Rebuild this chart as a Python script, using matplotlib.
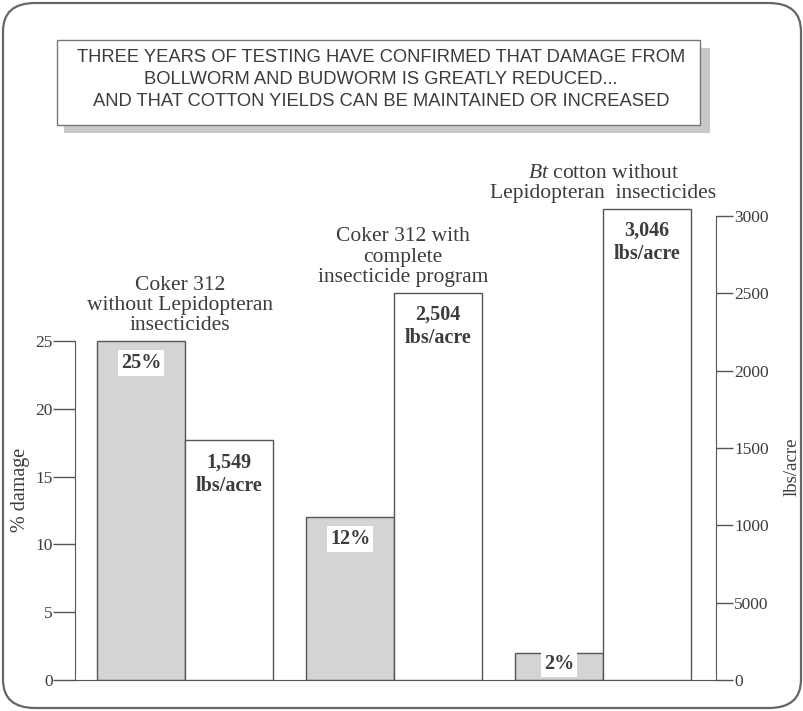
import matplotlib
matplotlib.use("Agg")
import matplotlib.pyplot as plt
from matplotlib.patches import FancyBboxPatch, Rectangle
from matplotlib.transforms import offset_copy

plt.rcParams["mathtext.fontset"] = "custom"
plt.rcParams["mathtext.rm"] = "Liberation Serif"
plt.rcParams["mathtext.it"] = "Liberation Serif:italic"

groups = ["Coker 312\nwithout Lepidopteran\ninsecticides",
          "Coker 312 with\ncomplete\ninsecticide program",
          "$\\it{Bt}$ cotton without\nLepidopteran  insecticides"]
damage = [25, 12, 2]
damage_labels = ["25%", "12%", "2%"]
yields = [1549, 2504, 3046]
yield_labels = ["1,549\nlbs/acre", "2,504\nlbs/acre", "3,046\nlbs/acre"]
left_ticks = [0, 5, 10, 15, 20, 25]
right_ticks = [0, 500, 1000, 1500, 2000, 2500, 3000]
right_tick_labels = ["0", "5000", "1000", "1500", "2000", "2500", "3000"]
title_lines = ["THREE YEARS OF TESTING HAVE CONFIRMED THAT DAMAGE FROM",
               "BOLLWORM AND BUDWORM IS GREATLY REDUCED...",
               "AND THAT COTTON YIELDS CAN BE MAINTAINED OR INCREASED"]

W, H = 804, 711
TXT = "#3c3c3c"
LINE = "#555555"
STIP = "#d4d4d4"
SERIF = "Liberation Serif"

fig = plt.figure(figsize=(W / 100, H / 100), dpi=100)

def fx(px):
    return px / W

def fy(py):
    return 1 - py / H

# outer rounded frame
frame = FancyBboxPatch((fx(3), fy(708)), fx(798), 705 / H,
                       boxstyle="round,pad=0,rounding_size=0.04",
                       transform=fig.transFigure, fill=False,
                       ec="#666666", lw=1.6)
fig.patches.append(frame)

# title box with stippled shadow
fig.patches.append(Rectangle((fx(64), fy(133)), fx(646), 85 / H,
                             transform=fig.transFigure, fc="#c8c8c8", ec="none"))
fig.patches.append(Rectangle((fx(57), fy(125)), fx(643), 85 / H,
                             transform=fig.transFigure, fc="white",
                             ec="#777777", lw=1.0))
for i, line in enumerate(title_lines):
    fig.text(fx(381), fy(57 + 22 * i), line, ha="center", va="center",
             fontsize=13.2, family="Liberation Sans", color=TXT)

# axes
ax = fig.add_axes([fx(75), fy(680), fx(716 - 75), (680 - 200) / H])
ax2 = ax.twinx()
ax.set_xlim(-0.526, 2.54)
ax.set_ylim(0, (680 - 200) / 13.56)
ax2.set_ylim(0, 480 * 3000 / 464)

bw = 0.42
xs = list(range(len(groups)))
ax.bar([x - bw / 2 for x in xs], damage, width=bw, color=STIP,
       edgecolor=LINE, lw=1.0, zorder=2)
ax2.bar([x + bw / 2 for x in xs], yields, width=bw, color="white",
        edgecolor=LINE, lw=1.0, zorder=2)

for a in (ax, ax2):
    a.patch.set_visible(False)
    a.spines["top"].set_visible(False)
ax.spines["right"].set_visible(False)
ax2.spines["left"].set_visible(False)
ax2.spines["bottom"].set_visible(False)
ax.spines["left"].set_bounds(0, 25)
ax2.spines["right"].set_bounds(0, 3000)
for s in ("left", "bottom"):
    ax.spines[s].set_color(LINE)
ax2.spines["right"].set_color(LINE)

ax.set_xticks([])
ax.set_yticks(left_ticks)
ax.tick_params(axis="y", length=16, width=1.0, color=LINE, labelsize=12.5,
               labelcolor=TXT, pad=0)
ax2.set_yticks(right_ticks)
ax2.set_yticklabels(right_tick_labels)
ax2.tick_params(axis="y", length=12, width=1.0, color=LINE, labelsize=12.5,
                labelcolor=TXT, pad=1)
for lab in ax.get_yticklabels() + ax2.get_yticklabels():
    lab.set_family(SERIF)

fig.text(fx(21), fy(490), "% damage", rotation=90, ha="center", va="center",
         fontsize=14.5, family=SERIF, color=TXT)
fig.text(fx(792), fy(467), "lbs/acre", rotation=90, ha="center", va="center",
         fontsize=13.5, family=SERIF, color=TXT)

# value labels
for x, d, lab in zip(xs, damage, damage_labels):
    ybase = ax.transData.transform((0, 0))[1]
    ytop = ax.transData.transform((0, d))[1]
    yc = max(ytop - 22, ybase + 16)
    xc = ax.transData.transform((x - bw / 2, 0))[0]
    fig.text(xc / W, yc / H, lab, ha="center", va="center", fontsize=14.5,
             family=SERIF, weight="bold", color=TXT,
             bbox=dict(fc="white", ec="none", pad=2))

for x, v, lab in zip(xs, yields, yield_labels):
    t = offset_copy(ax2.transData, fig=fig, x=0, y=-12, units="dots")
    ax2.text(x + bw / 2, v, lab, transform=t, ha="center", va="top",
             fontsize=14.5, family=SERIF, weight="bold", color=TXT,
             linespacing=1.22)

# group labels above tallest bar of each group
x_off = [-5, 9, 0]
for x, d, v, g, o in zip(xs, damage, yields, groups, x_off):
    top_d = ax.transData.transform((0, d))[1]
    top_y = ax2.transData.transform((0, v))[1]
    top = max(top_d, top_y)
    xc = ax.transData.transform((x, 0))[0] + o
    fig.text(xc / W, (top + 6) / H, g, ha="center", va="bottom",
             fontsize=15.5, family=SERIF, color=TXT, linespacing=1.08)

fig.savefig("out.png", dpi=100)
